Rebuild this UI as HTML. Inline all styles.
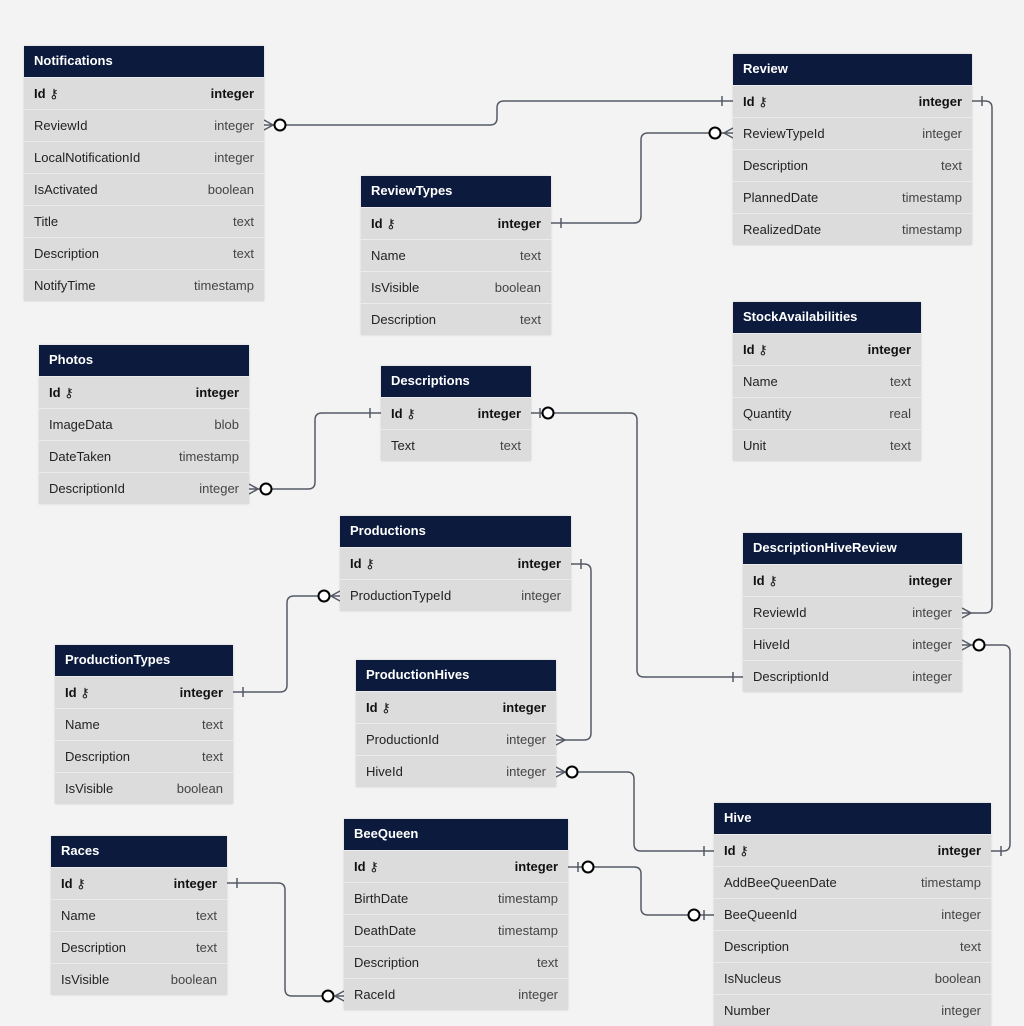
<!DOCTYPE html>
<html><head><meta charset="utf-8"><style>
body{margin:0;background:#f3f3f3;width:1024px;height:1026px;overflow:hidden;position:relative;font-family:"Liberation Sans","DejaVu Sans",sans-serif}
.t{position:absolute;background:#dcdcdc;box-shadow:0 0 2px rgba(0,0,0,.15)}
.h{height:31px;background:#0b1a3d;color:#fff;font-weight:bold;font-size:13px;line-height:29px;padding-left:10px;box-sizing:border-box}
.r{height:32px;border-top:1px solid #ebebeb;box-sizing:border-box;display:flex;justify-content:space-between;align-items:center;padding:0 10px;font-size:13px;color:#222}
.r span:last-child{color:#444}
.k span{font-weight:bold;color:#111!important}
svg{position:absolute;left:0;top:0}
</style></head><body>
<svg id="lines" width="1024" height="1026"></svg>
<div id="tables"></div>
<script>
const tables=[
["Notifications",24,46,240,[["ReviewId","integer"],["LocalNotificationId","integer"],["IsActivated","boolean"],["Title","text"],["Description","text"],["NotifyTime","timestamp"]]],
["Review",733,54,239,[["ReviewTypeId","integer"],["Description","text"],["PlannedDate","timestamp"],["RealizedDate","timestamp"]]],
["ReviewTypes",361,176,190,[["Name","text"],["IsVisible","boolean"],["Description","text"]]],
["StockAvailabilities",733,302,188,[["Name","text"],["Quantity","real"],["Unit","text"]]],
["Photos",39,345,210,[["ImageData","blob"],["DateTaken","timestamp"],["DescriptionId","integer"]]],
["Descriptions",381,366,150,[["Text","text"]]],
["Productions",340,516,231,[["ProductionTypeId","integer"]]],
["DescriptionHiveReview",743,533,219,[["ReviewId","integer"],["HiveId","integer"],["DescriptionId","integer"]]],
["ProductionTypes",55,645,178,[["Name","text"],["Description","text"],["IsVisible","boolean"]]],
["ProductionHives",356,660,200,[["ProductionId","integer"],["HiveId","integer"]]],
["Races",51,836,176,[["Name","text"],["Description","text"],["IsVisible","boolean"]]],
["BeeQueen",344,819,224,[["BirthDate","timestamp"],["DeathDate","timestamp"],["Description","text"],["RaceId","integer"]]],
["Hive",714,803,277,[["AddBeeQueenDate","timestamp"],["BeeQueenId","integer"],["Description","text"],["IsNucleus","boolean"],["Number","integer"]]]
];
const root=document.getElementById('tables');
for(const [n,x,y,w,rows] of tables){
 const t=document.createElement('div');t.className='t';
 
 
 t.style.left=x+'px';t.style.top=y+'px';t.style.width=w+'px';
 let h='<div class="h">'+n+'</div>';
 h+='<div class="r k"><span>Id &#x26B7;</span><span>integer</span></div>';
 for(const [c,ty] of rows) h+='<div class="r"><span>'+c+'</span><span>'+ty+'</span></div>';
 t.innerHTML=h;root.appendChild(t);
}
const svg=document.getElementById('lines');let s='';
function conn(x1,y1,xm,y2,x2){const r=7,dy=y2>y1?1:-1,d1=xm>x1?1:-1,d2=x2>xm?1:-1;
 s+=`<path d="M${x1},${y1} H${xm-d1*r} Q${xm},${y1} ${xm},${y1+dy*r} V${y2-dy*r} Q${xm},${y2} ${xm+d2*r},${y2} H${x2}" fill="none" stroke="#555a66" stroke-width="1.5"/>`;}
function bar(x,y){s+=`<line x1="${x}" y1="${y-5}" x2="${x}" y2="${y+5}" stroke="#555a66" stroke-width="1.5"/>`;}
function circ(x,y){s+=`<circle cx="${x}" cy="${y}" r="5.5" fill="#fff" stroke="#000" stroke-width="2"/>`;}
function crow(x,y,dir){s+=`<path d="M${x},${y-5} L${x+dir*9},${y} L${x},${y+5}" fill="none" stroke="#555a66" stroke-width="1.5"/>`;}
conn(264,125,497,101,733);crow(264,125,1);circ(280,125);bar(722,101);
conn(551,223,641,133,733);bar(561,223);crow(733,133,-1);circ(715,133);
conn(972,101,992,613,962);bar(982,101);crow(962,613,1);
conn(531,413,637,677,743);circ(548,413);bar(540,413);bar(733,677);
conn(249,489,315,413,381);crow(249,489,1);circ(266,489);bar(370,413);
conn(571,564,591,740,556);bar(581,564);crow(556,740,1);
conn(233,692,287,596,340);bar(243,692);circ(324,596);crow(340,596,-1);
conn(962,645,1010,851,991);crow(962,645,1);circ(979,645);bar(1001,851);
conn(556,772,634,851,714);crow(556,772,1);circ(572,772);bar(704,851);
conn(568,867,641,915,714);bar(578,867);circ(588,867);circ(694,915);bar(704,915);
conn(227,883,285,996,344);bar(237,883);circ(328,996);crow(344,996,-1);
svg.innerHTML=s;
</script>
</body></html>
